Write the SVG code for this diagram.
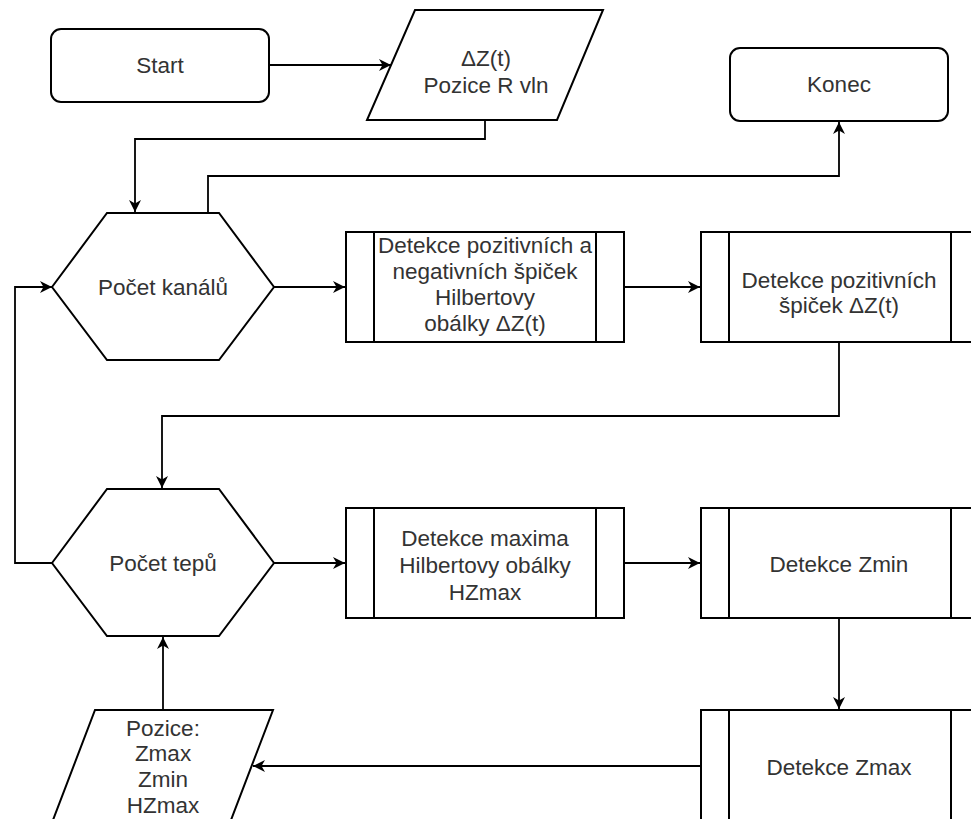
<svg xmlns="http://www.w3.org/2000/svg" width="971" height="819" viewBox="0 0 971 819">
<defs>
<marker id="arr" markerUnits="userSpaceOnUse" markerWidth="14" markerHeight="12" refX="12" refY="6" orient="auto">
<path d="M0,0 L12,6 L0,12 L3.5,6 Z" fill="#000"/>
</marker>
<style>
.s{fill:#fff;stroke:#000;stroke-width:2}
.l{fill:none;stroke:#000;stroke-width:2}
.c{fill:none;stroke:#000;stroke-width:1.8;marker-end:url(#arr)}
text{font-family:"Liberation Sans",Arial,sans-serif;font-size:22.5px;fill:#333;text-anchor:middle}
</style>
</defs>
<rect width="971" height="819" fill="#fff"/>
<g id="connectors">
<path class="c" d="M269,65 H391"/>
<path class="c" d="M485,120 V139 H135 V212"/>
<path class="c" d="M208,213 V176 H839 V122"/>
<path class="c" d="M274,287 H345"/>
<path class="c" d="M624,287 H700"/>
<path class="c" d="M839,342 V416 H162 V488"/>
<path class="c" d="M52,563 H15 V287 H52"/>
<path class="c" d="M274,563 H345"/>
<path class="c" d="M624,563 H700"/>
<path class="c" d="M839,618 V709"/>
<path class="c" d="M701,766 H253"/>
<path class="c" d="M163,710 V637"/>
</g>
<g id="start">
<rect class="s" x="51" y="29" width="218" height="73" rx="10"/>
<text x="160" y="73">Start</text>
</g>
<g id="input1">
<path class="s" d="M415,10 H603 L557,120 H367 Z"/>
<text x="486" y="66">ΔZ(t)</text>
<text x="486" y="93">Pozice R vln</text>
</g>
<g id="konec">
<rect class="s" x="730" y="48" width="218" height="73" rx="10"/>
<text x="839" y="92">Konec</text>
</g>
<g id="pocet-kanalu">
<path class="s" d="M52,287 L107,213 H219 L274,287 L219,360 H107 Z"/>
<text x="163" y="295">Počet kanálů</text>
</g>
<g id="detekce-pn">
<rect class="s" x="346" y="232" width="278" height="110"/>
<path class="l" d="M374,232 V342 M596,232 V342"/>
<text x="485" y="253">Detekce pozitivních a</text>
<text x="485" y="279">negativních špiček</text>
<text x="485" y="305">Hilbertovy</text>
<text x="485" y="331">obálky ΔZ(t)</text>
</g>
<g id="detekce-poz">
<rect class="s" x="701" y="232" width="278" height="110"/>
<path class="l" d="M729,232 V342 M951,232 V342"/>
<text x="839" y="288">Detekce pozitivních</text>
<text x="839" y="313">špiček ΔZ(t)</text>
</g>
<g id="pocet-tepu">
<path class="s" d="M52,563 L107,489 H219 L274,563 L219,636 H107 Z"/>
<text x="163" y="571">Počet tepů</text>
</g>
<g id="detekce-hzmax">
<rect class="s" x="346" y="508" width="278" height="110"/>
<path class="l" d="M374,508 V618 M596,508 V618"/>
<text x="485" y="546">Detekce maxima</text>
<text x="485" y="573">Hilbertovy obálky</text>
<text x="485" y="600">HZmax</text>
</g>
<g id="detekce-zmin">
<rect class="s" x="701" y="508" width="278" height="110"/>
<path class="l" d="M729,508 V618 M951,508 V618"/>
<text x="839" y="572">Detekce Zmin</text>
</g>
<g id="detekce-zmax">
<rect class="s" x="701" y="710" width="278" height="110"/>
<path class="l" d="M729,710 V820 M951,710 V820"/>
<text x="839" y="775">Detekce Zmax</text>
</g>
<g id="pozice">
<path class="s" d="M95,710 H273 L231,820 H53 Z"/>
<text x="163" y="736">Pozice:</text>
<text x="163" y="761">Zmax</text>
<text x="163" y="787">Zmin</text>
<text x="163" y="813">HZmax</text>
</g>
</svg>
